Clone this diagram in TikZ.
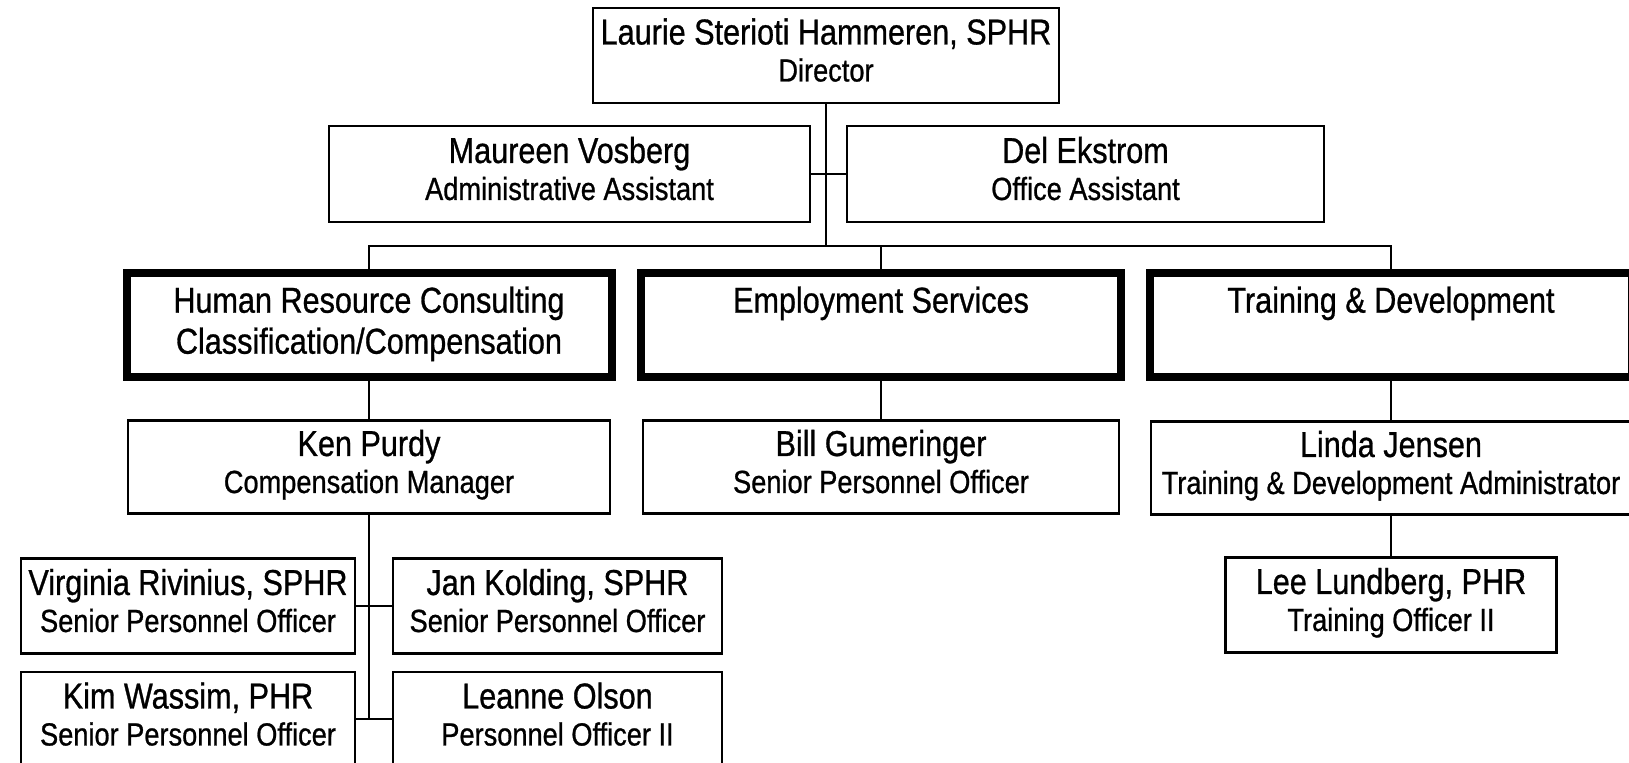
\documentclass[tikz,border=0pt]{standalone}
\usepackage{fontspec}
\setmainfont[FakeStretch=0.85,FakeBold=0.8]{Liberation Sans}
\usetikzlibrary{calc}

\newcommand\namesize{\fontsize{18}{18}\selectfont}
\newcommand\titlesize{\fontsize{16}{18.5}\selectfont}
\newcommand\deptsize{\fontsize{18}{20.5}\selectfont}
\newcommand\who[2]{{\namesize\strut #1}\\\strut #2}

\tikzset{
  person/.style={draw,line width=1.1pt,inner sep=0pt,align=center,
                 minimum width=#1,minimum height=47.5pt,font=\titlesize},
  person/.default=240pt,
  dept/.style={draw,line width=4pt,inner sep=0pt,align=center,
               minimum width=#1,minimum height=52pt,font=\deptsize},
  dept/.default=241pt,
  link/.style={line width=1pt}
}

\begin{document}
\begin{tikzpicture}[x=0.5pt,y=-0.5pt]
                      \useasboundingbox (0,0) rectangle (1629,763);
                      \clip (0,0) rectangle (1629,763);
                      % director and assistants
                      \node[person=233pt](dir)at(826,55.5){\who{Laurie Sterioti Hammeren, SPHR}{Director}};
                      \node[person=240.5pt,minimum height=48pt](mau)at(569.5,174){\who{Maureen Vosberg}{Administrative Assistant}};
                      \node[person=238.5pt,minimum height=48pt](del)at(1085.5,174){\who{Del Ekstrom}{Office Assistant}};
                      \draw[link] (mau.east) -- (del.west);
                      \coordinate (bus) at (826,246);
                      \draw[link] (dir.south) -- (bus);
                      % departments
                      \node[dept=242.5pt](hr)at(369,325){\strut Human Resource Consulting\\\strut Classification/Compensation};
                      \node[dept=240pt](es)at(881,325){\strut Employment Services\\\strut};
                      \node[dept=241pt](td)at(1391,325){\strut Training \& Development\\\strut};
                      \draw[link] (hr.north) |- (bus) -| (td.north);
                      \draw[link] (es.north) -- (es.north |- bus);
                      % managers
                      \node[person=241pt,minimum height=46.5pt](ken)at(369,467){\who{Ken Purdy}{Compensation Manager}};
                      \node[person=238pt,minimum height=46.5pt](bill)at(881,467){\who{Bill Gumeringer}{Senior Personnel Officer}};
                      \node[person=240pt,minimum height=46.5pt](lin)at(1391,468){\who{Linda Jensen}{Training \& Development Administrator}};
                      \draw[link] (hr) -- (ken);
                      \draw[link] (es) -- (bill);
                      \draw[link] (td) -- (lin);
                      \node[person=165.5pt](lee)at(1391,605){\who{Lee Lundberg, PHR}{Training Officer II}};
                      \draw[link] (lin) -- (lee);
                      % officers
                      \node[person=167pt](vir)at(188,606){\who{Virginia Rivinius, SPHR}{Senior Personnel Officer}};
                      \node[person=164.5pt](jan)at(557.5,606){\who{Jan Kolding, SPHR}{Senior Personnel Officer}};
                      \node[person=167pt](kim)at(188,719.5){\who{Kim Wassim, PHR}{Senior Personnel Officer}};
                      \node[person=164.5pt](lea)at(557.5,719.5){\who{Leanne Olson}{Personnel Officer II}};
                      \draw[link] (vir.east) -- (jan.west);
                      \draw[link] (kim.east) -- (lea.west);
                      \draw[link] (ken.south) -- (ken.south |- kim.east);
                  \end{tikzpicture}
\end{document}
